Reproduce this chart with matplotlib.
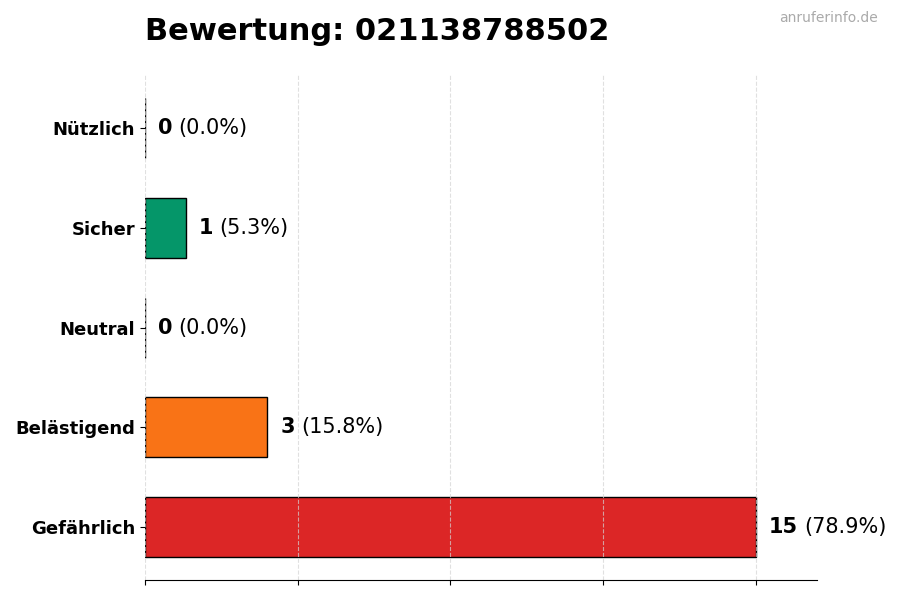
import matplotlib.pyplot as plt
import numpy as np

# Rating data (bottom to top in the chart)
categories = ['Gefährlich', 'Belästigend', 'Neutral', 'Sicher', 'Nützlich']
counts = [15, 3, 0, 1, 0]
colors = ['#dc2626', '#f97316', '#9ca3af', '#059669', '#3b82f6']
phone = '021138788502'

total = sum(counts)
y = np.arange(len(categories))

fig = plt.figure(figsize=(9, 6), dpi=100)
ax = fig.add_axes([0.161, 0.033, 0.747, 0.842])

bars = ax.barh(y, counts, height=0.6, color=colors, edgecolor='black', linewidth=1)

# value labels: bold count + normal percentage
for i, c in enumerate(counts):
    pct = c / total * 100 if total else 0
    t = ax.annotate(str(c), xy=(c, i), xytext=(9.4, 0), textcoords='offset points',
                    va='center', ha='left', fontsize=15, fontweight='bold')
    ax.annotate(f'({pct:.1f}%)', xy=(1, 0.5), xycoords=t, xytext=(4.5, 0),
                textcoords='offset points', va='center', ha='left', fontsize=15)

ax.set_xlim(0, max(counts) * 1.1)
ax.set_xticks(np.linspace(0, max(counts), 5))
ax.set_xticklabels([])
ax.set_yticks(y, categories, fontsize=13, fontweight='bold')

ax.grid(axis='x', linestyle='--', color='lightgray', alpha=0.7, linewidth=0.8)

for s in ['top', 'right', 'left']:
    ax.spines[s].set_visible(False)

fig.text(0.161, 0.947, f'Bewertung: {phone}', fontsize=22, fontweight='bold',
         ha='left', va='center')
fig.text(0.975, 0.97, 'anruferinfo.de', fontsize=10, color='#aaaaaa',
         ha='right', va='center')

plt.savefig('out.png', dpi=100)
